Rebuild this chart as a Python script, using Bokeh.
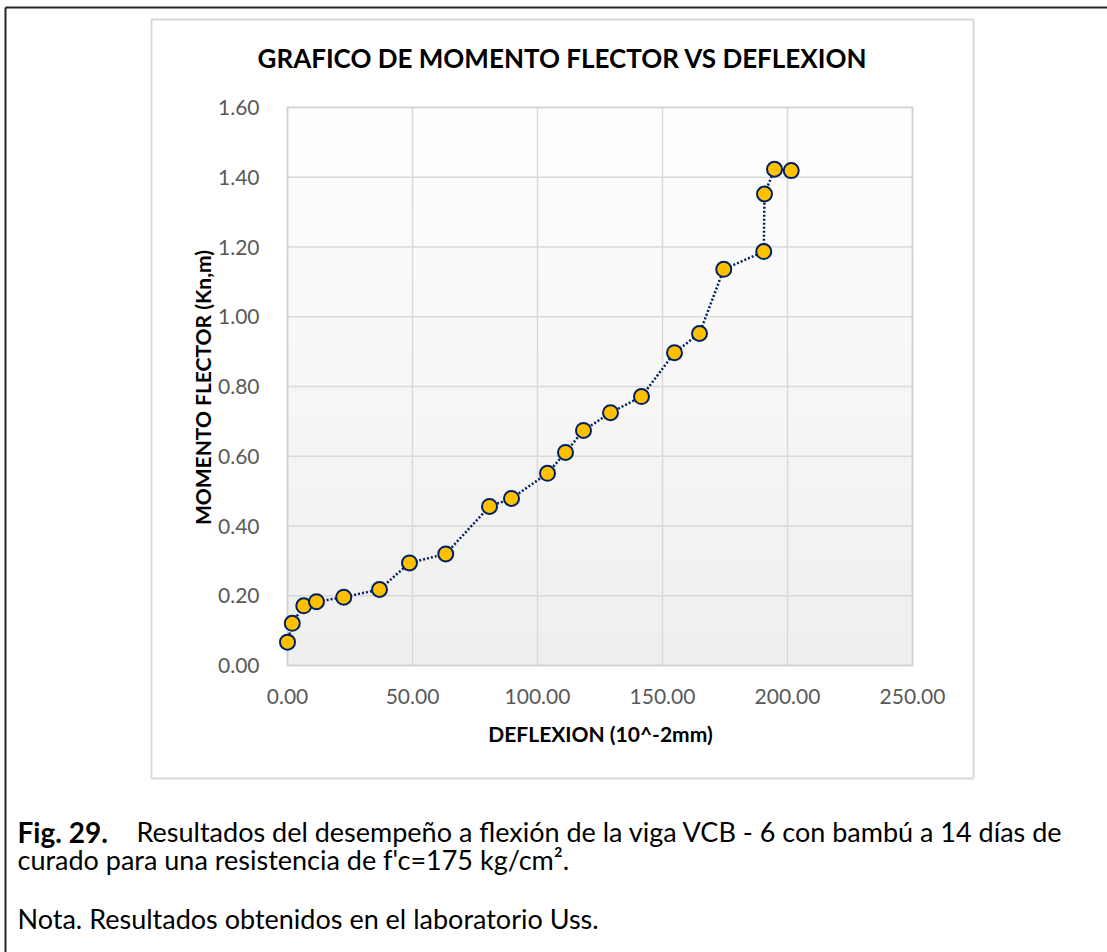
import numpy as np
from bokeh.plotting import figure
from bokeh.models import (Range1d, FixedTicker, NumeralTickFormatter, Label,
                          LinearAxis, ColumnDataSource)
from bokeh.embed import file_html
from bokeh.resources import INLINE

# ---- data ----
deflexion = [0.0, 1.9, 6.5, 11.6, 22.5, 36.8, 48.8, 63.3, 80.8, 89.6, 104.0,
             111.2, 118.4, 129.2, 141.6, 154.8, 164.8, 174.5, 190.5, 190.8,
             194.8, 201.5]
momento = [0.067, 0.121, 0.171, 0.183, 0.196, 0.218, 0.294, 0.320, 0.456,
           0.479, 0.551, 0.611, 0.674, 0.725, 0.771, 0.897, 0.952, 1.136,
           1.187, 1.352, 1.423, 1.419]
x_ticks = [0, 50, 100, 150, 200, 250]
y_ticks = [0.0, 0.2, 0.4, 0.6, 0.8, 1.0, 1.2, 1.4, 1.6]

title_text = "GRAFICO DE MOMENTO FLECTOR VS DEFLEXION"
x_label = "DEFLEXION (10^-2mm)"
y_label = "MOMENTO FLECTOR (Kn,m)"
cap_bold = "Fig. 29."
cap_line1 = "Resultados del desempeño a flexión de la viga VCB - 6 con bambú a 14 días de"
cap_line2 = "curado para una resistencia de f'c=175 kg/cm²."
cap_note = "Nota. Resultados obtenidos en el laboratorio Uss."

FONT = "Lato"

# ---- page geometry (pixels) ----
W, H = 1107, 952
F_LEFT, F_RIGHT, F_TOP, F_BOTTOM = 287, 912, 107, 665
X_MIN, X_MAX = x_ticks[0], x_ticks[-1]
Y_MIN, Y_MAX = y_ticks[0], y_ticks[-1]

sx = (X_MAX - X_MIN) / (F_RIGHT - F_LEFT)
sy = (Y_MAX - Y_MIN) / (F_BOTTOM - F_TOP)

p = figure(width=W, height=H, output_backend="svg", toolbar_location=None,
           x_range=Range1d(0, W), y_range=Range1d(H, 0),
           x_axis_location=None, y_axis_location=None, min_border=0)
p.title.visible = False
p.outline_line_color = None
p.background_fill_color = "white"
p.border_fill_color = "white"
for gr in p.grid:
    gr.visible = False

p.extra_x_ranges = {"d": Range1d(X_MIN - F_LEFT * sx, X_MAX + (W - F_RIGHT) * sx)}
p.extra_y_ranges = {"d": Range1d(Y_MIN - (H - F_BOTTOM) * sy, Y_MAX + F_TOP * sy)}
D = dict(x_range_name="d", y_range_name="d")

# outer page border and chart frame
p.segment(x0=[5, 5], y0=[7, 7], x1=[W + 5, 5], y1=[7, H + 5],
          line_color="#262626", line_width=2)
p.quad(left=151, right=973, top=19, bottom=778, fill_color="white",
       line_color="#d9d9d9", line_width=2, level="underlay")

# gradient background of plot area
n = 256
g = np.linspace(239, 255, n).astype(np.uint32)  # bottom -> top
col = (255 << 24) | (g << 16) | (g << 8) | g
img = np.stack([col, col], axis=1).astype(np.uint32)
p.image_rgba(image=[img], x=X_MIN, y=Y_MIN, dw=X_MAX - X_MIN,
             dh=Y_MAX - Y_MIN, **D)

# gridlines and plot-area border
p.segment(x0=x_ticks, y0=Y_MIN, x1=x_ticks, y1=Y_MAX,
          line_color="#d9d9d9", line_width=1.5, **D)
p.segment(x0=X_MIN, y0=y_ticks, x1=X_MAX, y1=y_ticks,
          line_color="#d9d9d9", line_width=1.5, **D)
p.quad(left=X_MIN, right=X_MAX, bottom=Y_MIN, top=Y_MAX, fill_color=None,
       line_color="#d0d0d0", line_width=1.5, **D)

# axes (fixed at the plot-area edges)
xa = LinearAxis(fixed_location=Y_MIN, ticker=FixedTicker(ticks=x_ticks),
                formatter=NumeralTickFormatter(format="0.00"), **D)
ya = LinearAxis(fixed_location=X_MIN, ticker=FixedTicker(ticks=y_ticks),
                formatter=NumeralTickFormatter(format="0.00"), **D)
for ax in (xa, ya):
    ax.axis_line_color = None
    ax.major_tick_line_color = None
    ax.minor_tick_line_color = None
    ax.major_label_text_font = FONT
    ax.major_label_text_font_size = "21px"
    ax.major_label_text_color = "#595959"
xa.major_label_standoff = 17
ya.major_label_standoff = 22
p.add_layout(xa, "below")
p.add_layout(ya, "left")

# series
src = ColumnDataSource(dict(x=deflexion, y=momento))
p.line("x", "y", source=src, line_color="#002060", line_width=2.5,
       line_dash="2 2", **D)
p.scatter("x", "y", source=src, size=15, fill_color="#FFC000",
          line_color="#002060", line_width=2, **D)

def lab(x, y, text, size, bold=False, align="left", color="black", angle=0.0):
    p.add_layout(Label(x=x, y=y, text=text,
                       text_font=FONT, text_font_size=size,
                       text_font_style="bold" if bold else "normal",
                       text_align=align, text_baseline="middle",
                       text_color=color, angle=angle))

lab(562, 57, title_text, "26px", bold=True, align="center")
lab(600, 733, x_label, "21px", bold=True, align="center")
lab(202, 387, y_label, "21px", bold=True, align="center", angle=np.pi / 2)

lab(17, 831, cap_bold, "28px", bold=True)
lab(136, 831, cap_line1, "27px")
lab(17, 859, cap_line2, "27px")
lab(17, 918, cap_note, "27px")

open("out.html", "w").write(file_html(p, INLINE))
